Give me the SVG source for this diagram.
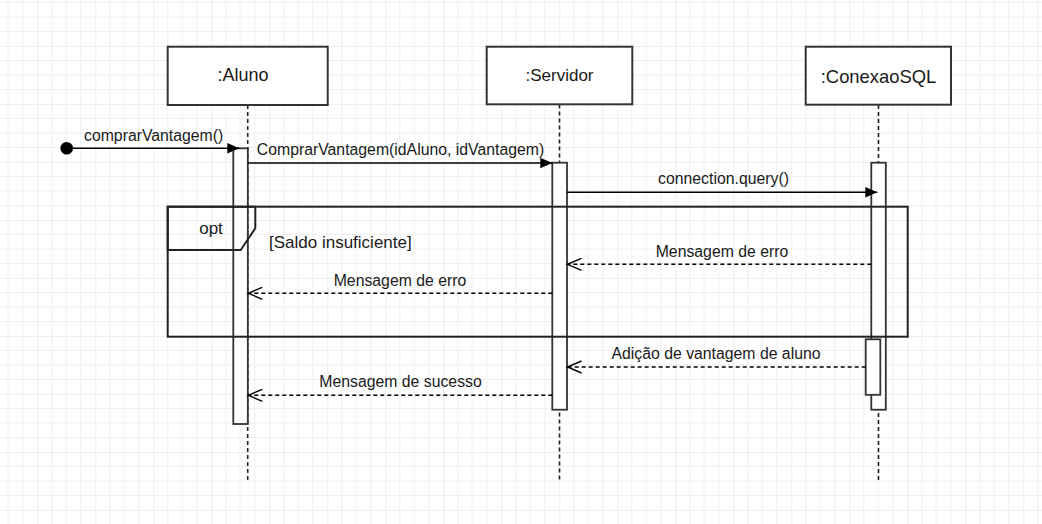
<svg xmlns="http://www.w3.org/2000/svg" width="1042" height="524" viewBox="0 0 1042 524">
  <defs>
    <pattern id="grid" x="37.3" y="46" width="58" height="58" patternUnits="userSpaceOnUse">
      <path d="M14.5,0 V58 M29,0 V58 M43.5,0 V58 M0,14.5 H58 M0,29 H58 M0,43.5 H58" stroke="#efefef" stroke-width="1" fill="none"/>
      <path d="M0,0 V58 M0,0 H58" stroke="#dedede" stroke-width="1" fill="none"/>
    </pattern>
    <marker id="filled" markerUnits="userSpaceOnUse" markerWidth="13" markerHeight="11" refX="12" refY="5.3" orient="auto" overflow="visible">
      <path d="M0,0 L12,5.3 L0,10.6 z" fill="#000"/>
    </marker>
    <marker id="open" markerUnits="userSpaceOnUse" markerWidth="16" markerHeight="14" refX="14" refY="6" orient="auto" overflow="visible">
      <path d="M0,0 L14,6 L0,12" fill="none" stroke="#000" stroke-width="1.4"/>
    </marker>
  </defs>
  <style>
    .box { fill: #fff; stroke: #333; stroke-width: 2; }
    .act { fill: #fff; stroke: #333; stroke-width: 1.8; }
    .life { stroke: #222; stroke-width: 1.6; stroke-dasharray: 4 3; fill: none; }
    .msg { stroke: #000; stroke-width: 1.6; fill: none; }
    .ret { stroke: #000; stroke-width: 1.5; fill: none; stroke-dasharray: 4 3; }
    .frame { fill: none; stroke: #222; stroke-width: 2; }
    .title { font-family: "Liberation Sans", Arial, sans-serif; fill: #1a1a1a; text-anchor: middle; }
    .lbl { font-family: "Liberation Sans", Arial, sans-serif; font-size: 15.8px; fill: #1a1a1a; }
  </style>
  <rect x="0" y="0" width="1042" height="524" fill="#fff"/>
  <rect x="0" y="0" width="1042" height="524" fill="url(#grid)"/>

  <g id="lifelines">
    <line class="life" x1="247.7" y1="105" x2="247.7" y2="482"/>
    <line class="life" x1="559.5" y1="104.5" x2="559.5" y2="482"/>
    <line class="life" x1="878.5" y1="105" x2="878.5" y2="482"/>
  </g>

  <g id="node-aluno">
    <rect class="box" x="167.7" y="46.7" width="160" height="58.3"/>
    <text class="title" x="243" y="81" font-size="18">:Aluno</text>
  </g>
  <g id="node-servidor">
    <rect class="box" x="486.7" y="46.7" width="145.6" height="57.6"/>
    <text class="title" x="559.5" y="81" font-size="17">:Servidor</text>
  </g>
  <g id="node-conexaosql">
    <rect class="box" x="805.7" y="46.7" width="145.3" height="58"/>
    <text class="title" x="878.5" y="83" font-size="18.4">:ConexaoSQL</text>
  </g>

  <g id="activations">
    <rect class="act" x="233.3" y="148.3" width="14.5" height="275.7"/>
    <rect class="act" x="552.3" y="162.7" width="14.7" height="247"/>
    <rect class="act" x="871.3" y="162.7" width="14.5" height="247"/>
    <rect class="act" x="865.7" y="339.3" width="14.6" height="55.5"/>
  </g>

  <g id="frame-opt">
    <rect class="frame" x="167.7" y="206.7" width="740" height="130"/>
    <polygon class="frame" points="167.7,206.7 255.3,206.7 255.3,228.3 240.7,250 167.7,250"/>
    <text class="title" x="211" y="234" font-size="17">opt</text>
    <text class="lbl" x="269" y="248.3" font-size="17" style="font-size:17px">[Saldo insuficiente]</text>
  </g>

  <g id="connectors">
    <circle cx="66.7" cy="148.3" r="6.3" fill="#000"/>
    <line class="msg" x1="66.7" y1="148.3" x2="239.3" y2="148.3" marker-end="url(#filled)"/>
    <line class="msg" x1="247.8" y1="163" x2="552.3" y2="163" marker-end="url(#filled)"/>
    <line class="msg" x1="567" y1="192.3" x2="877.3" y2="192.3" marker-end="url(#filled)"/>
    <line class="ret" x1="871.3" y1="264.3" x2="567.5" y2="264.3" marker-end="url(#open)"/>
    <line class="ret" x1="552.3" y1="293.3" x2="248.3" y2="293.3" marker-end="url(#open)"/>
    <line class="ret" x1="865.7" y1="367" x2="567.5" y2="367" marker-end="url(#open)"/>
    <line class="ret" x1="552.3" y1="395.3" x2="248.3" y2="395.3" marker-end="url(#open)"/>
  </g>

  <g id="labels">
    <text class="lbl" x="84" y="141">comprarVantagem()</text>
    <text class="lbl" x="400.5" y="155" text-anchor="middle">ComprarVantagem(idAluno, idVantagem)</text>
    <text class="lbl" x="723.5" y="184" text-anchor="middle">connection.query()</text>
    <text class="lbl" x="722" y="256.7" text-anchor="middle">Mensagem de erro</text>
    <text class="lbl" x="400" y="286" text-anchor="middle">Mensagem de erro</text>
    <text class="lbl" x="716" y="359.3" text-anchor="middle">Adição de vantagem de aluno</text>
    <text class="lbl" x="400.5" y="386.7" text-anchor="middle">Mensagem de sucesso</text>
  </g>
</svg>
